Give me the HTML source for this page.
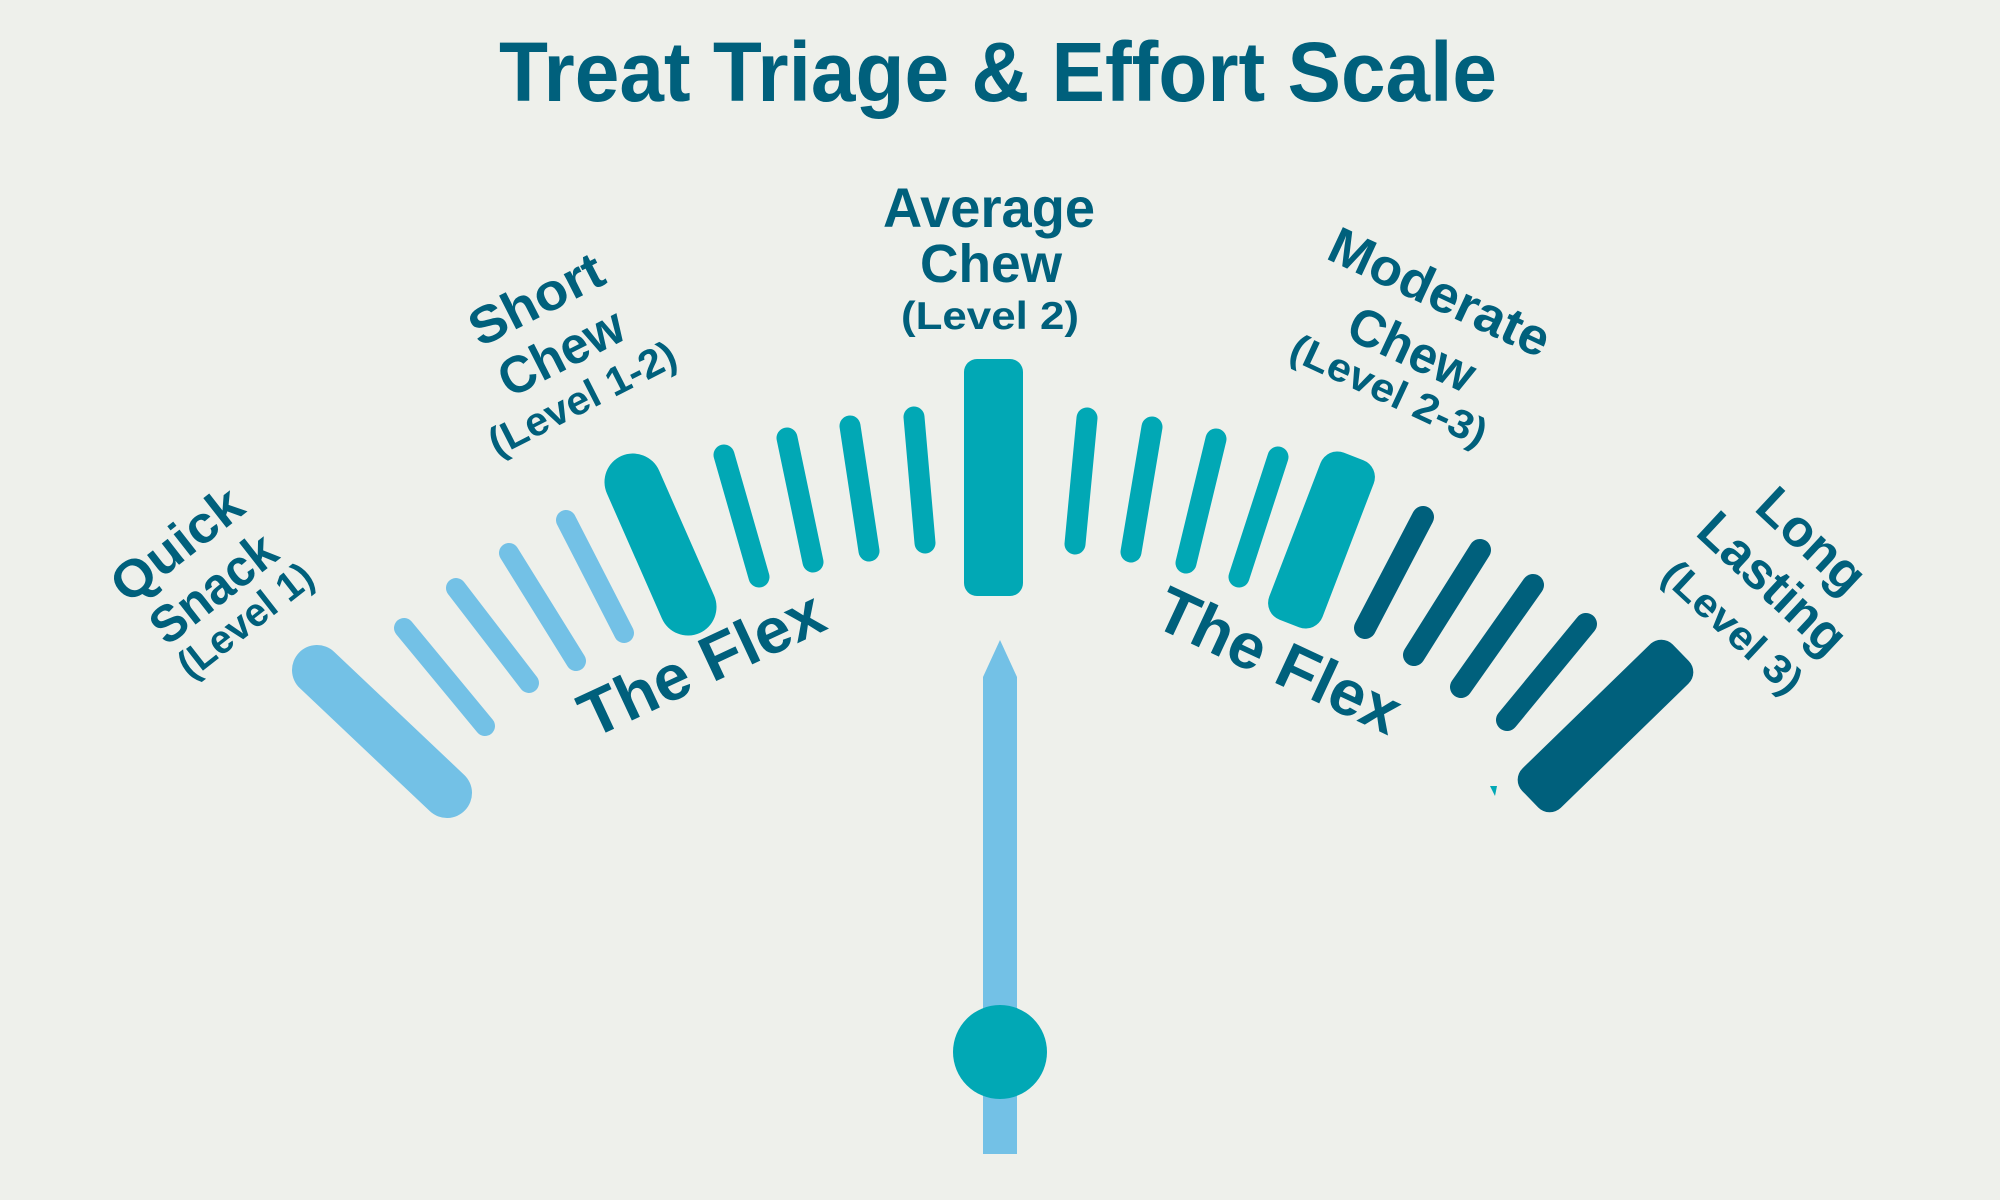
<!DOCTYPE html>
<html>
<head>
<meta charset="utf-8">
<style>
html,body{margin:0;padding:0;background:#eef0eb;}
svg{display:block;}
text{font-family:"Liberation Sans",Arial,sans-serif;font-weight:bold;fill:#00607c;}
</style>
</head>
<body>
<svg width="2000" height="1200" viewBox="0 0 2000 1200" xmlns="http://www.w3.org/2000/svg">
<rect x="0" y="0" width="2000" height="1200" fill="#eef0eb"/>

<!-- Title -->
<text x="499" y="101" font-size="84" textLength="998" lengthAdjust="spacingAndGlyphs">Treat Triage &amp; Effort Scale</text>

<!-- Light blue ticks -->
<g stroke="#73c1e6" stroke-linecap="round" fill="none">
  <line x1="317" y1="670" x2="447" y2="793" stroke-width="50"/>
  <line x1="404" y1="628" x2="485" y2="726" stroke-width="20"/>
  <line x1="456" y1="588" x2="529" y2="683" stroke-width="20"/>
  <line x1="509" y1="553" x2="576" y2="661" stroke-width="20"/>
  <line x1="566" y1="520" x2="624" y2="633" stroke-width="20"/>
</g>

<!-- Teal ticks -->
<g stroke="#01a8b5" stroke-linecap="round" fill="none">
  <line x1="633" y1="482" x2="688" y2="607" stroke-width="57"/>
  <line x1="724" y1="455" x2="759" y2="577" stroke-width="21"/>
  <line x1="787" y1="438" x2="813" y2="562" stroke-width="21"/>
  <line x1="850" y1="426" x2="869" y2="551" stroke-width="21"/>
  <line x1="914" y1="417" x2="925" y2="543" stroke-width="21"/>
  <line x1="1087" y1="418" x2="1075" y2="544" stroke-width="21"/>
  <line x1="1152" y1="427" x2="1131" y2="552" stroke-width="21"/>
  <line x1="1216" y1="439" x2="1186" y2="563" stroke-width="21"/>
  <line x1="1278" y1="457" x2="1239" y2="577" stroke-width="21"/>
</g>
<rect x="964" y="359" width="59" height="237" rx="13" ry="13" fill="#01a8b5"/>
<rect x="-28.5" y="-89.5" width="57" height="179" rx="18" ry="18" fill="#01a8b5" transform="translate(1321.5,540) rotate(21)"/>

<!-- Dark ticks -->
<g stroke="#00607c" stroke-linecap="round" fill="none">
  <line x1="1423" y1="517" x2="1365" y2="628" stroke-width="22"/>
  <line x1="1480" y1="550" x2="1414" y2="655" stroke-width="22"/>
  <line x1="1533" y1="585" x2="1461" y2="687" stroke-width="22"/>
  <line x1="1586" y1="624" x2="1507" y2="720" stroke-width="22"/>
</g>
<rect x="-27.5" y="-105" width="55" height="210" rx="16" ry="16" fill="#00607c" transform="translate(1605.5,726) rotate(45.8)"/>
<polygon points="1490,786 1497,786 1495,796" fill="#01a8b5"/>

<!-- Needle -->
<polygon points="983,1154 983,677 1000,640 1017,677 1017,1154" fill="#73c1e6"/>
<circle cx="1000" cy="1052" r="47" fill="#01a8b5"/>

<!-- Quick Snack -->
<g transform="translate(176.5,544) rotate(-38)"><text x="0" y="18" font-size="52" text-anchor="middle" textLength="152" lengthAdjust="spacingAndGlyphs">Quick</text></g>
<g transform="translate(213,588) rotate(-38)"><text x="0" y="18" font-size="52" text-anchor="middle" textLength="145" lengthAdjust="spacingAndGlyphs">Snack</text></g>
<g transform="translate(245,620) rotate(-38)"><text x="0" y="14" font-size="40" text-anchor="middle" textLength="160" lengthAdjust="spacingAndGlyphs">(Level 1)</text></g>

<!-- Short Chew -->
<g transform="translate(536,299) rotate(-27)"><text x="0" y="18" font-size="52" text-anchor="middle" textLength="144" lengthAdjust="spacingAndGlyphs">Short</text></g>
<g transform="translate(561,352) rotate(-27)"><text x="0" y="18" font-size="52" text-anchor="middle" textLength="134" lengthAdjust="spacingAndGlyphs">Chew</text></g>
<g transform="translate(582,398) rotate(-27)"><text x="0" y="14" font-size="40" text-anchor="middle" textLength="205" lengthAdjust="spacingAndGlyphs">(Level 1-2)</text></g>

<!-- Average Chew -->
<text x="989" y="227" font-size="56" text-anchor="middle" textLength="212" lengthAdjust="spacingAndGlyphs">Average</text>
<text x="991" y="282" font-size="54" text-anchor="middle" textLength="142" lengthAdjust="spacingAndGlyphs">Chew</text>
<text x="990" y="329" font-size="39" text-anchor="middle" textLength="178" lengthAdjust="spacingAndGlyphs">(Level 2)</text>

<!-- Moderate Chew -->
<g transform="translate(1440,292) rotate(25)"><text x="0" y="18" font-size="52" text-anchor="middle" textLength="238" lengthAdjust="spacingAndGlyphs">Moderate</text></g>
<g transform="translate(1412,349) rotate(25)"><text x="0" y="18" font-size="52" text-anchor="middle" textLength="134" lengthAdjust="spacingAndGlyphs">Chew</text></g>
<g transform="translate(1389,390) rotate(25)"><text x="0" y="14" font-size="40" text-anchor="middle" textLength="212" lengthAdjust="spacingAndGlyphs">(Level 2-3)</text></g>

<!-- Long Lasting -->
<g transform="translate(1812,540) rotate(43)"><text x="0" y="18" font-size="52" text-anchor="middle" textLength="128" lengthAdjust="spacingAndGlyphs">Long</text></g>
<g transform="translate(1773,583) rotate(43)"><text x="0" y="18" font-size="52" text-anchor="middle" textLength="182" lengthAdjust="spacingAndGlyphs">Lasting</text></g>
<g transform="translate(1733,627) rotate(43)"><text x="0" y="14" font-size="40" text-anchor="middle" textLength="175" lengthAdjust="spacingAndGlyphs">(Level 3)</text></g>

<!-- The Flex labels -->
<g transform="translate(592,739) rotate(-25)"><text x="0" y="0" font-size="64" textLength="262" lengthAdjust="spacingAndGlyphs">The Flex</text></g>
<g transform="translate(1151,625) rotate(25)"><text x="0" y="0" font-size="64" textLength="262" lengthAdjust="spacingAndGlyphs">The Flex</text></g>
</svg>
</body>
</html>
